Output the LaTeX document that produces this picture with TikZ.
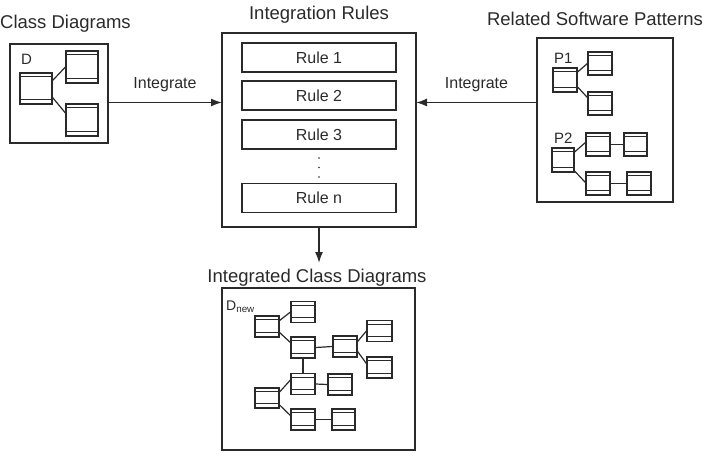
\documentclass[tikz,border=0pt]{standalone}
\usepackage{fontspec}
\setmainfont{Liberation Sans}
\usetikzlibrary{arrows.meta}
\definecolor{ink}{HTML}{2A2A2A}
\begin{document}
\begin{tikzpicture}[x=1pt,y=-1pt,
  box/.style={draw=ink, line width=1.6pt, inner sep=0pt},
  rulebox/.style={draw=ink, line width=1.4pt, minimum width=154pt, minimum height=29pt, inner sep=0pt, font=\fontsize{16}{18}\selectfont, text=ink},
  header/.style={font=\fontsize{18.5}{20}\selectfont, text=ink, inner sep=0pt, anchor=base},
  lbl/.style={font=\fontsize{16}{18}\selectfont, text=ink, inner sep=0pt, anchor=base},
  small/.style={font=\fontsize{15}{17}\selectfont, text=ink, inner sep=0pt, anchor=base west},
  cls/.style={draw=ink, line width=1.2pt, inner sep=0pt, minimum width=24pt, minimum height=22pt,
    path picture={
      \draw[ink, line width=0.9pt] ([yshift=-3.8pt]path picture bounding box.north west) -- ([yshift=-3.8pt]path picture bounding box.north east);
      \draw[ink, line width=0.9pt] ([yshift=4.6pt]path picture bounding box.south west) -- ([yshift=4.6pt]path picture bounding box.south east);
    }},
  link/.style={draw=ink, line width=1.2pt},
  arr/.style={draw=ink, line width=1.6pt, -{Latex[length=11pt,width=8pt]}}
]
\useasboundingbox (0,0) rectangle (706,455);

% headers
\node[header, anchor=base west] (hcd) at (0,28) {Class Diagrams};
\node[header] (hir) at (319,19) {Integration Rules};
\node[header] (hrs) at (595,25) {Related Software Patterns};
\node[header] (hic) at (317,282) {Integrated Class Diagrams};

% main boxes
\node[box, minimum width=98pt, minimum height=99pt] (cd) at (59,93.5) {};
\node[box, minimum width=194pt, minimum height=194pt] (ir) at (319,130) {};
\node[box, minimum width=136pt, minimum height=164pt] (rs) at (605,120) {};
\node[box, minimum width=193pt, minimum height=162pt] (ic) at (318.5,369) {};

% rules
\node[rulebox] (r1) at (319,57.5) {Rule 1};
\node[rulebox] (r2) at (319,95.5) {Rule 2};
\node[rulebox] (r3) at (319,134.5) {Rule 3};
\node[rulebox] (rn) at (319,198) {Rule n};
\fill[ink] (319,158) circle (0.8pt) (319,167.5) circle (0.8pt) (319,177) circle (0.8pt);

% arrows
\coordinate (cdout) at (108,102.5);
\coordinate (irin) at (222,102.5);
\coordinate (rsout) at (537,102.5);
\coordinate (irin2) at (416,102.5);
\coordinate (icin) at (319,263);
\draw[arr] (cdout) -- (irin) node[lbl, midway, above=10pt] (int1) {Integrate};
\draw[arr] (rsout) -- (irin2) node[lbl, midway, above=10pt] (int2) {Integrate};
\draw[arr] (ir.south) -- (icin);

% Class Diagrams content
\node[small] (dl) at (21,64) {D};
\node[cls, minimum width=32pt, minimum height=31pt] (d1) at (36,88.5) {};
\node[cls, minimum width=32pt, minimum height=32pt] (d2) at (82,67) {};
\node[cls, minimum width=32pt, minimum height=32pt] (d3) at (82,120) {};
\path[link] ([yshift=8pt]d1.east) -- (d2.west);
\path[link] ([yshift=-9pt]d1.east) -- ([yshift=7pt]d3.west);

% P1
\node[small] (p1) at (554,63) {P1};
\node[cls, minimum height=24pt] (p1a) at (565,80) {};
\node[cls, minimum height=23pt] (p1b) at (600,63.5) {};
\node[cls, minimum height=23pt] (p1c) at (600,103.5) {};
\path[link] ([yshift=8pt]p1a.east) -- (p1b.west);
\path[link] ([yshift=-7pt]p1a.east) -- ([yshift=6pt]p1c.west);

% P2
\node[small] (p2) at (554,143) {P2};
\node[cls, minimum width=22pt, minimum height=24pt] (p2a) at (563,160) {};
\node[cls, minimum height=23pt] (p2b) at (598,144.5) {};
\node[cls, minimum width=23pt, minimum height=23pt] (p2c) at (635.5,144.5) {};
\node[cls, minimum height=23pt] (p2d) at (598,183.5) {};
\node[cls, minimum height=23pt] (p2e) at (639,183.5) {};
\path[link] ([yshift=8pt]p2a.east) -- ([yshift=2pt]p2b.west);
\path[link] (p2b.east) -- (p2c.west);
\path[link] ([yshift=-11pt]p2a.east) -- ([yshift=1pt]p2d.west);
\path[link] (p2d.east) -- (p2e.west);

% Integrated content
\node[small, font=\fontsize{14}{16}\selectfont] (dn) at (226,310.5) {D\textsubscript{new}};
\node[cls, minimum height=21pt] (ca) at (267,326.5) {};
\node[cls, minimum height=21pt] (cb) at (303,312) {};
\node[cls, minimum height=21pt] (cc) at (303,347.5) {};
\node[cls, minimum height=21pt] (cdd) at (345,346.5) {};
\node[cls, minimum width=25pt, minimum height=21pt] (ce) at (379.5,331) {};
\node[cls, minimum width=25pt, minimum height=21pt] (cf) at (379.5,367.5) {};
\node[cls, minimum height=21pt] (cg) at (303,384) {};
\node[cls, minimum height=21pt] (ch) at (340,384.5) {};
\node[cls, minimum height=20pt] (ci) at (267,398) {};
\node[cls, minimum height=21pt] (cj) at (303,419.5) {};
\node[cls, minimum width=23pt, minimum height=21pt] (ck) at (343.5,419.5) {};
\path[link] ([yshift=6pt]ca.east) -- (cb.west);
\path[link] ([yshift=-6pt]ca.east) -- ([yshift=5pt]cc.west);
\path[link] (cc.east) -- (cdd.west);
\path[link] ([yshift=5pt]cdd.east) -- (ce.west);
\path[link] ([yshift=-5pt]cdd.east) -- ([yshift=4pt]cf.west);
\path[link] (cc.south) -- (cg.north);
\path[link] (cg.east) -- (ch.west);
\path[link] ([yshift=6pt]ci.east) -- ([yshift=4pt]cg.west);
\path[link] ([yshift=-7pt]ci.east) -- ([yshift=4pt]cj.west);
\path[link] (cj.east) -- (ck.west);
\end{tikzpicture}
\end{document}
